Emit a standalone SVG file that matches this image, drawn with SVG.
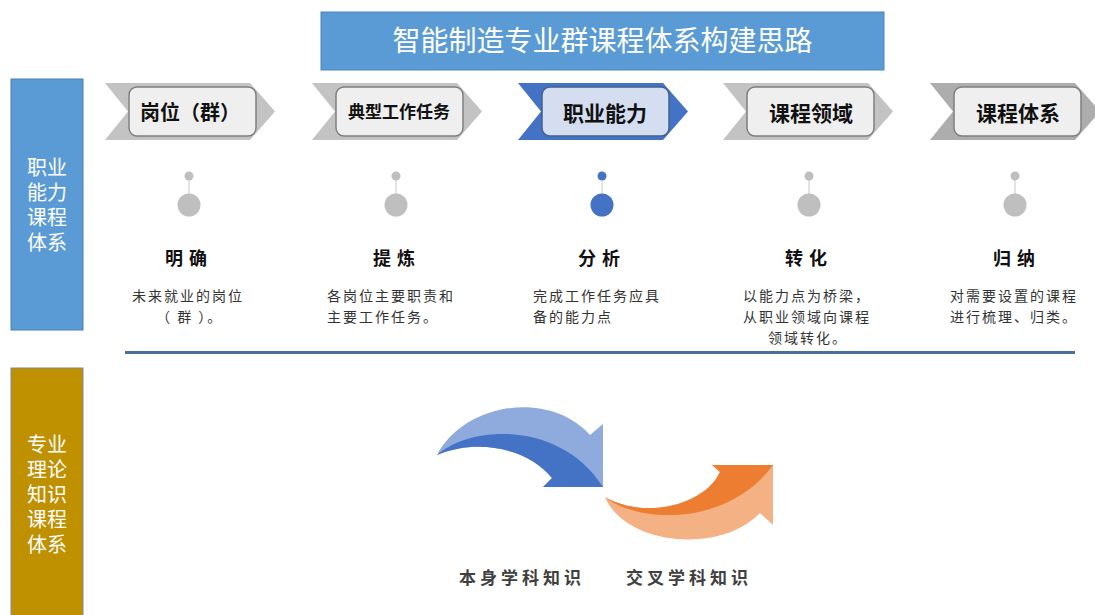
<svg xmlns="http://www.w3.org/2000/svg" width="1095" height="615" viewBox="0 0 1095 615">
  <defs>
    <style>
      text { font-family: "Noto Sans CJK SC", "Noto Sans", sans-serif; }
      .side { fill: #ffffff; font-size: 20px; text-anchor: middle; font-family: "Liberation Sans", "Noto Sans CJK SC", sans-serif; }
      .chev { fill: #C3C3C3; }
      .chev5 { fill: #ADADAD; }
      .chevb { fill: #4472C4; }
      .box { fill: #EFEFEF; stroke: #7F7F7F; stroke-width: 1.5; }
      .boxb { fill: #D4DEF0; stroke: #44608F; stroke-width: 1.5; }
      .ct { font-size: 20px; font-weight: bold; fill: #111111; text-anchor: middle; }
      .lbl { font-size: 18px; font-weight: bold; fill: #111111; letter-spacing: 6px; }
      .desc { font-size: 14px; fill: #333333; letter-spacing: 2px; }
      .dotg { fill: #BFBFBF; }
      .dotb { fill: #4472C4; }
      .stem { stroke: #C8C8C8; stroke-width: 1; }
      .bl { font-size: 17px; font-weight: bold; fill: #404040; letter-spacing: 4px; }
    </style>
  </defs>
  <rect width="1095" height="615" fill="#ffffff"/>

  <g id="title">
    <rect x="321" y="12" width="563" height="58" fill="#5B9BD5" stroke="#4C86BC" stroke-width="1"/>
    <text x="602.5" y="51" font-size="28" fill="#ffffff" text-anchor="middle">智能制造专业群课程体系构建思路</text>
  </g>

  <g id="side-top">
    <rect x="11" y="79" width="72" height="251" fill="#5B9BD5" stroke="#4A7FB0" stroke-width="1"/>
    <text class="side" x="47" y="175">职业</text>
    <text class="side" x="47" y="200">能力</text>
    <text class="side" x="47" y="225">课程</text>
    <text class="side" x="47" y="250">体系</text>
  </g>

  <g id="side-bottom">
    <rect x="11" y="368" width="72" height="250" fill="#BF9000" stroke="#7F8A8F" stroke-width="1"/>
    <text class="side" x="47" y="452">专业</text>
    <text class="side" x="47" y="477">理论</text>
    <text class="side" x="47" y="502">知识</text>
    <text class="side" x="47" y="527">课程</text>
    <text class="side" x="47" y="552">体系</text>
  </g>

  <g id="step1">
    <polygon class="chev" points="105,83 250,83 275,111.5 250,140 105,140 128,111.5"/>
    <rect class="box" x="129" y="87" width="127" height="49" rx="8"/>
    <text class="ct" x="190" y="120">岗位（群）</text>
    <circle class="dotg" cx="189" cy="176" r="4.5"/>
    <line class="stem" x1="189" y1="180" x2="189" y2="194"/>
    <circle class="dotg" cx="189" cy="205" r="11.5"/>
    <text class="lbl" x="165" y="265">明确</text>
    <text class="desc" x="132" y="301">未来就业的岗位</text>
    <text class="desc" x="156" y="322">（ 群 ）。</text>
  </g>

  <g id="step2">
    <polygon class="chev" points="312,83 457,83 482,111.5 457,140 312,140 335,111.5"/>
    <rect class="box" x="336" y="87" width="127" height="49" rx="8"/>
    <text class="ct" x="399" y="118" style="font-size:17px">典型工作任务</text>
    <circle class="dotg" cx="396" cy="176" r="4.5"/>
    <line class="stem" x1="396" y1="180" x2="396" y2="194"/>
    <circle class="dotg" cx="396" cy="205" r="11.5"/>
    <text class="lbl" x="373" y="265">提炼</text>
    <text class="desc" x="327" y="301">各岗位主要职责和</text>
    <text class="desc" x="327" y="322">主要工作任务。</text>
  </g>

  <g id="step3">
    <polygon class="chevb" points="518,83 663,83 688,111.5 663,140 518,140 541,111.5"/>
    <rect class="boxb" x="542" y="87" width="127" height="49" rx="8"/>
    <text class="ct" x="605" y="121" style="font-size:21px">职业能力</text>
    <circle class="dotb" cx="602" cy="176" r="4.5"/>
    <line class="stem" x1="602" y1="180" x2="602" y2="194"/>
    <circle class="dotb" cx="602" cy="205" r="11.5"/>
    <text class="lbl" x="578" y="265">分析</text>
    <text class="desc" x="533" y="301">完成工作任务应具</text>
    <text class="desc" x="533" y="322">备的能力点</text>
  </g>

  <g id="step4">
    <polygon class="chev" points="723,83 868,83 893,111.5 868,140 723,140 746,111.5"/>
    <rect class="box" x="747" y="87" width="127" height="49" rx="8"/>
    <text class="ct" x="811" y="121" style="font-size:21px">课程领域</text>
    <circle class="dotg" cx="809" cy="176" r="4.5"/>
    <line class="stem" x1="809" y1="180" x2="809" y2="194"/>
    <circle class="dotg" cx="809" cy="205" r="11.5"/>
    <text class="lbl" x="785" y="265">转化</text>
    <text class="desc" x="743" y="301">以能力点为桥梁，</text>
    <text class="desc" x="743" y="322">从职业领域向课程</text>
    <text class="desc" x="768" y="343">领域转化。</text>
  </g>

  <g id="step5">
    <polygon class="chev5" points="930,83 1075,83 1100,111.5 1075,140 930,140 953,111.5"/>
    <rect class="box" x="954" y="87" width="127" height="49" rx="8"/>
    <text class="ct" x="1018" y="121" style="font-size:21px">课程体系</text>
    <circle class="dotg" cx="1015" cy="176" r="4.5"/>
    <line class="stem" x1="1015" y1="180" x2="1015" y2="194"/>
    <circle class="dotg" cx="1015" cy="205" r="11.5"/>
    <text class="lbl" x="993" y="265">归纳</text>
    <text class="desc" x="950" y="301">对需要设置的课程</text>
    <text class="desc" x="950" y="322">进行梳理、归类。</text>
  </g>

  <g id="connectors">
    <line x1="125" y1="352.5" x2="1075" y2="352.5" stroke="#4A6F98" stroke-width="3"/>
  </g>

  <g id="arrow-blue">
    <path d="M437,455 C465,402 550,390 590,435 L603,424 L603,487 L543,487 L552,478 C530,450 480,437 437,455 Z" fill="#8FAADC"/>
    <path d="M437,455 C470,425 560,420 603,487 L543,487 L552,478 C530,450 480,437 437,455 Z" fill="#4472C4"/>
  </g>

  <g id="arrow-orange">
    <path d="M605,497 C625,545 720,555 760,513 L773,525 L773,465 L712,465 L720,472 C705,505 645,520 605,497 Z" fill="#F4B183"/>
    <path d="M605,497 C640,525 730,525 773,465 L712,465 L720,472 C705,505 645,520 605,497 Z" fill="#ED7D31"/>
  </g>

  <g id="bottom-labels">
    <text class="bl" x="459" y="584">本身学科知识</text>
    <text class="bl" x="626" y="584">交叉学科知识</text>
  </g>
</svg>
